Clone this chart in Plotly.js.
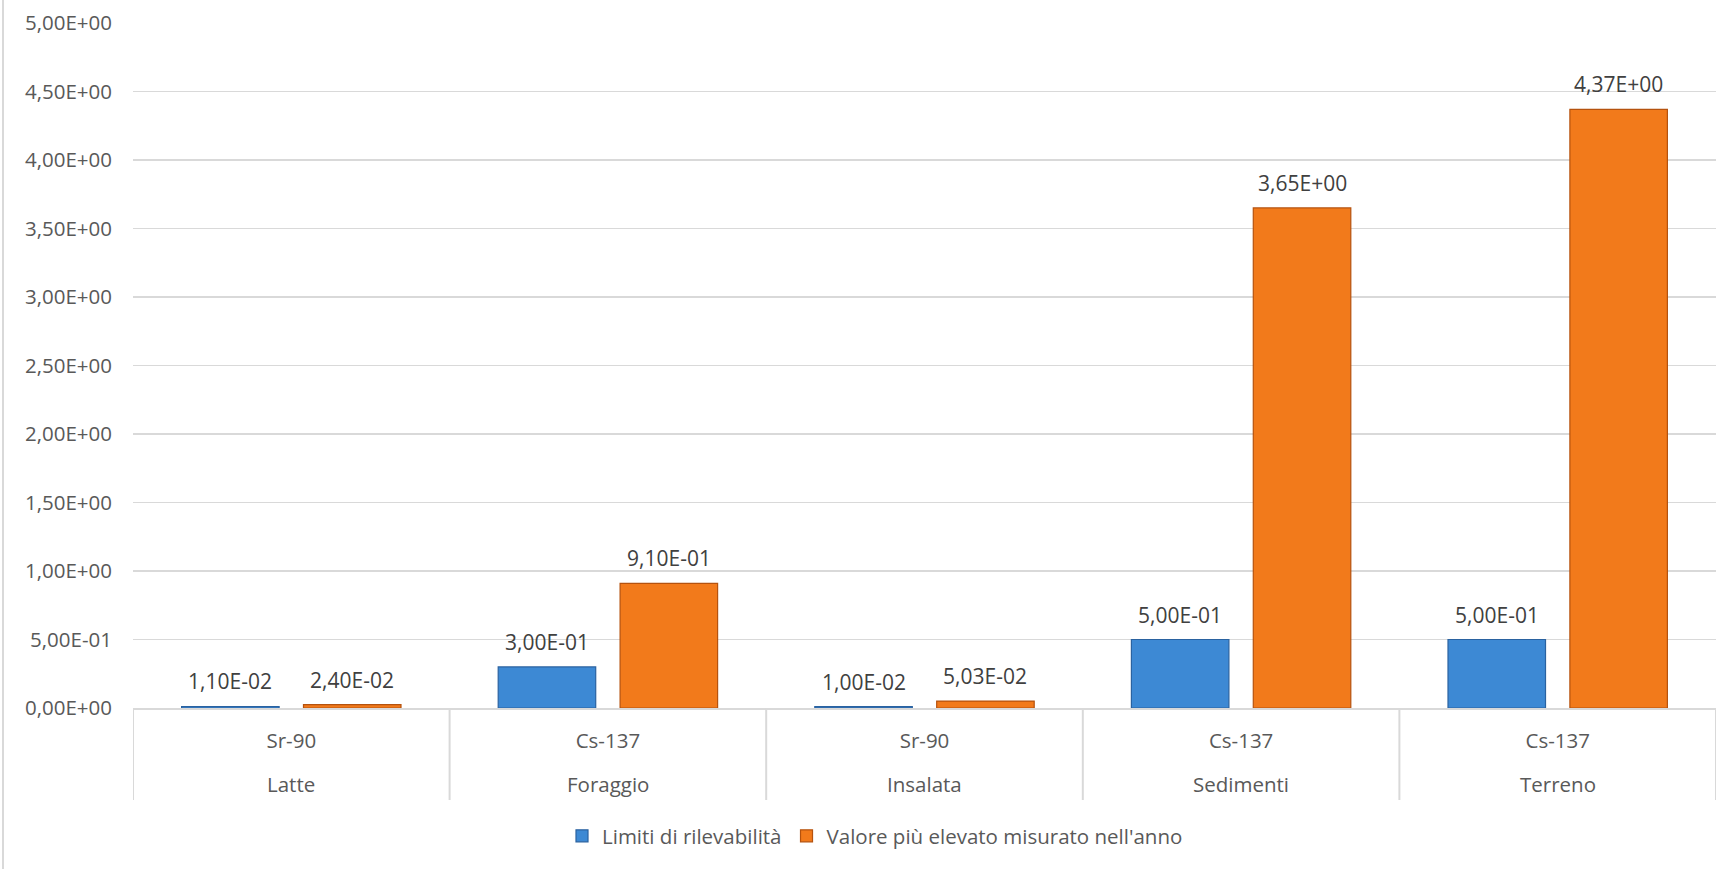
<!DOCTYPE html>
<html>
<head>
<meta charset="utf-8">
<script src="https://cdn.plot.ly/plotly-3.0.1.min.js"></script>
<style>
  html, body { margin: 0; padding: 0; background: #ffffff; }
  #chart { width: 1718px; height: 869px; }
  #edge { position: absolute; left: 2px; top: 0; width: 2px; height: 869px; background: #d9d9d9; }
</style>
</head>
<body>
<div id="chart"></div>
<div id="edge"></div>
<script>
// ---- data ----
const outerCats = ["Latte", "Foraggio", "Insalata", "Sedimenti", "Terreno"];
const innerCats = ["Sr-90", "Cs-137", "Sr-90", "Cs-137", "Cs-137"];
const seriesNames = ["Limiti di rilevabilità", "Valore più elevato misurato nell'anno"];
const limiti = [0.011, 0.30, 0.010, 0.50, 0.50];
const valoreMax = [0.024, 0.91, 0.0503, 3.65, 4.37];
const yTickVals = [0, 0.5, 1, 1.5, 2, 2.5, 3, 3.5, 4, 4.5, 5];

// Italian-style scientific notation, e.g. 1,10E-02
function fmt(v) {
  const s = v.toExponential(2);
  const parts = s.split("e");
  const mant = parts[0].replace(".", ",");
  let exp = parseInt(parts[1], 10);
  const sign = exp < 0 ? "-" : "+";
  exp = Math.abs(exp);
  return mant + "E" + sign + (exp < 10 ? "0" : "") + exp;
}

const font = "'Open Sans', 'DejaVu Sans', sans-serif";
const W = 1718, H = 869;
const M = { l: 133, r: 2, t: 23, b: 161 };
const plotW = W - M.l - M.r, plotH = H - M.t - M.b;
const BARGAP = 0.23;
const slotPx = plotW / outerCats.length * (1 - BARGAP) / 2;

const traces = [
  {
    type: "bar",
    name: seriesNames[0],
    x: outerCats,
    y: limiti,
    marker: { color: "#3d89d4", line: { color: "#2a62a0", width: 1.2 } },
    hoverinfo: "skip"
  },
  {
    type: "bar",
    name: seriesNames[1],
    x: outerCats,
    y: valoreMax,
    marker: { color: "#f27a1b", line: { color: "#b5520e", width: 1.2 } },
    hoverinfo: "skip"
  }
];

const annotations = [];
[limiti, valoreMax].forEach(function (series, si) {
  series.forEach(function (v, i) {
    annotations.push({
      xref: "x", yref: "y",
      x: outerCats[i], y: v,
      xshift: (si === 0 ? -1 : 1) * slotPx / 2,
      yshift: 25,
      yanchor: "middle",
      text: fmt(v),
      showarrow: false,
      font: { family: font, size: 21, color: "#404040" }
    });
  });
});
// outer category labels (second level of the axis)
outerCats.forEach(function (c) {
  annotations.push({
    xref: "x", yref: "paper",
    x: c, y: -(784 - (H - M.b)) / plotH,
    yanchor: "middle",
    text: c,
    showarrow: false,
    font: { family: font, size: 20.5, color: "#595959" }
  });
});

// group dividers below the axis
const shapes = [];
for (let i = 0; i <= outerCats.length; i++) {
  shapes.push({
    type: "line", xref: "x", yref: "paper",
    x0: i - 0.5, x1: i - 0.5,
    y0: 0, y1: -(800 - (H - M.b)) / plotH,
    line: { color: "#d9d9d9", width: 2 }
  });
}

const layout = {
  width: W,
  height: H,
  margin: M,
  paper_bgcolor: "#ffffff",
  plot_bgcolor: "#ffffff",
  barmode: "group",
  bargap: BARGAP,
  bargroupgap: 0.2,
  font: { family: font, size: 20, color: "#595959" },
  xaxis: {
    type: "category",
    range: [-0.5, outerCats.length - 0.5],
    tickvals: outerCats,
    ticktext: innerCats,
    showline: true,
    linecolor: "#d9d9d9",
    linewidth: 2,
    showgrid: false,
    ticks: "",
    ticklabelstandoff: 13,
    tickfont: { family: font, size: 20.5, color: "#595959" }
  },
  yaxis: {
    range: [0, 5],
    tickvals: yTickVals,
    ticktext: yTickVals.map(fmt),
    showgrid: true,
    gridcolor: "#d9d9d9",
    gridwidth: 1.5,
    zeroline: false,
    showline: false,
    ticks: "",
    ticklabelstandoff: 20,
    tickfont: { family: font, size: 20.5, color: "#595959" }
  },
  annotations: annotations,
  shapes: shapes,
  showlegend: true,
  legend: {
    orientation: "h",
    x: (875 - M.l) / plotW,
    xanchor: "center",
    y: -(836 - (H - M.b)) / plotH,
    yanchor: "middle",
    font: { family: font, size: 20.5, color: "#595959" },
    itemwidth: 30,
    traceorder: "normal"
  }
};

Plotly.newPlot("chart", traces, layout, { displayModeBar: false, staticPlot: true });
</script>
</body>
</html>
